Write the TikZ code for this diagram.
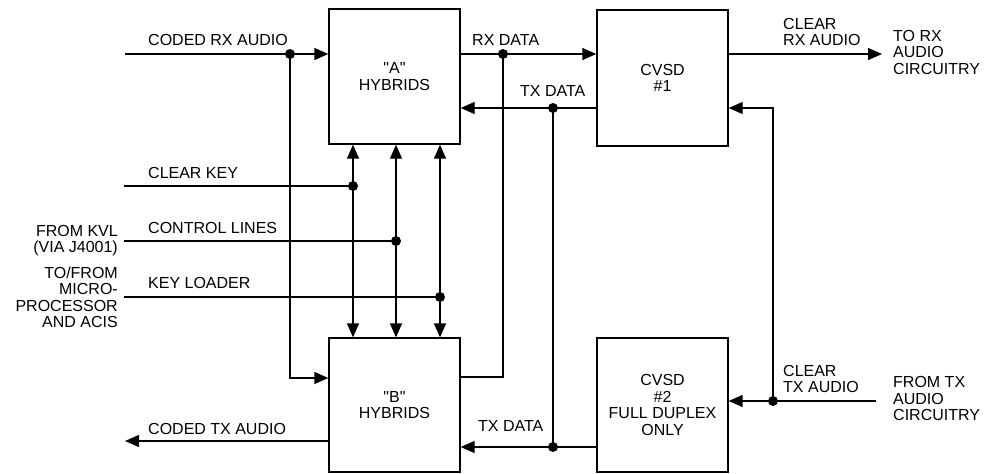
\documentclass[tikz,border=0pt]{standalone}
\usepackage{fontspec}
\setmainfont{Liberation Sans}[Ligatures=TeXOff]
\usetikzlibrary{arrows.meta}
\begin{document}
\begin{tikzpicture}[x=1pt,y=-1pt,
  every node/.style={font=\fontsize{16}{16.5}\selectfont},
  wire/.style={line width=1.3pt},
  arr/.style={wire,-{Triangle[length=14pt,width=12pt]}},
  blk/.style={draw,line width=1.3pt,inner sep=0pt,minimum width=131pt,minimum height=135pt,align=center},
  lbl/.style={inner sep=0pt},
  dot/.style={fill=black}]
\useasboundingbox (0,0) rectangle (997,474);
% blocks
\node[blk] (A) at (394.5,76.5) {"A"\\HYBRIDS};
\node[blk,minimum height=134pt] (B) at (394.5,405) {"B"\\HYBRIDS};
\node[blk,minimum height=136pt] (C1) at (662.5,78) {CVSD\\\#1};
\node[blk,minimum height=134pt] (C2) at (662.5,405) {CVSD\\\#2\\FULL DUPLEX\\ONLY};
% coordinates
\coordinate (crxin) at (125,54);
\coordinate (j1) at (290,54);
\coordinate (j1b) at (290,378);
\coordinate (rxj) at (503,54);
\coordinate (rxb) at (503,377);
\coordinate (txj) at (553,108);
\coordinate (txj2) at (553,447);
\coordinate (crxo) at (882,54);
\coordinate (ctxin) at (876,401);
\coordinate (ctxj) at (773,401);
\coordinate (ctxt) at (773,108);
\coordinate (ctxo) at (125,441);
\coordinate (ck) at (124,186);
\coordinate (k1) at (353,186);
\coordinate (cl) at (124,241);
\coordinate (k2) at (396,241);
\coordinate (kl) at (124,297);
\coordinate (k3) at (440,297);
% coded rx audio
\draw[arr] (crxin) -- (A.west |- crxin);
\draw[arr] (j1) -- (j1b) -- (B.west |- j1b);
% rx data
\draw[arr] (A.east |- rxj) -- (C1.west |- rxj);
\draw[wire] (rxj) -- (rxb) -- (B.east |- rxb);
% tx data
\draw[arr] (C1.west |- txj) -- (A.east |- txj);
\draw[arr] (C2.west |- txj2) -- (B.east |- txj2);
\draw[wire] (txj) -- (txj2);
% clear rx audio
\draw[arr] (C1.east |- crxo) -- (crxo);
% clear tx audio
\draw[arr] (ctxin) -- (C2.east |- ctxin);
\draw[arr] (ctxj) -- (ctxt) -- (C1.east |- ctxt);
% coded tx audio
\draw[arr] (B.west |- ctxo) -- (ctxo);
% control lines
\draw[wire] (ck) -- (k1);
\draw[wire] (cl) -- (k2);
\draw[wire] (kl) -- (k3);
\foreach \k in {k1,k2,k3}{
  \draw[arr] (\k) -- (A.south -| \k);
  \draw[arr] (\k) -- (B.north -| \k);
}
% dots
\foreach \p in {j1,rxj,txj,txj2,ctxj,k1,k2,k3}{
  \fill[dot] (\p) circle (5pt);
}
% labels
\node[lbl,anchor=base west] (l1) at (148,45) {CODED RX AUDIO};
\node[lbl,anchor=base west] (l2) at (472,45) {RX DATA};
\node[lbl,anchor=base west] (l3) at (520,96) {TX DATA};
\node[lbl,anchor=north west,align=left] (l4) at (783,18) {CLEAR\\RX AUDIO};
\node[lbl,anchor=north west,align=left] (l5) at (893,30) {TO RX\\AUDIO\\CIRCUITRY};
\node[lbl,anchor=base west] (l6) at (148,178) {CLEAR KEY};
\node[lbl,anchor=base west] (l7) at (148,233) {CONTROL LINES};
\node[lbl,anchor=base west] (l8) at (148,288.5) {KEY LOADER};
\node[lbl,anchor=north east,align=right] (l9) at (118,225) {FROM KVL\\(VIA J4001)};
\node[lbl,anchor=north east,align=right] (l10) at (118,266.5) {TO/FROM\\MICRO-\\PROCESSOR\\AND ACIS};
\node[lbl,anchor=base west] (l11) at (148,434) {CODED TX AUDIO};
\node[lbl,anchor=base west] (l12) at (478,431) {TX DATA};
\node[lbl,anchor=north west,align=left] (l13) at (783,365) {CLEAR\\TX AUDIO};
\node[lbl,anchor=north west,align=left] (l14) at (893,376.5) {FROM TX\\AUDIO\\CIRCUITRY};
\end{tikzpicture}
\end{document}
